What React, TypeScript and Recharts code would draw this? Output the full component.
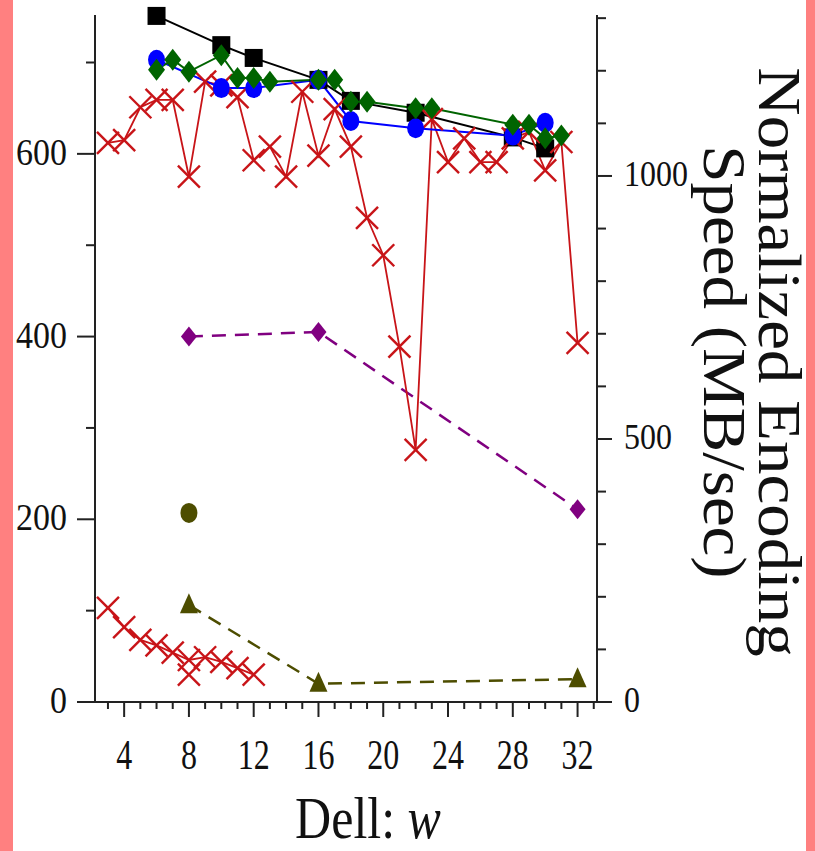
import { ComposedChart, Line, Scatter, XAxis, YAxis } from "recharts";

// w values and readings per series (left axis units)
const blackW = [6, 10, 12, 16, 18, 22, 28, 30];
const blackVal = [751, 719, 705, 681, 658, 645, 618, 606];

const blueW = [6, 10, 12, 16, 18, 22, 28, 30];
const blueVal = [703, 672, 672, 681, 636, 628, 620, 634];

const greenW = [6, 7, 8, 10, 11, 12, 13, 16, 17, 18, 19, 22, 23, 28, 29, 30, 31];
const greenVal = [692, 703, 690, 708, 683, 683, 679, 681, 681, 657, 657, 650, 650, 632, 632, 617, 620];

const redTopW = [3, 4, 5, 6, 7, 8, 9, 10, 11, 12, 13, 14, 15, 16, 17, 18, 19, 20, 21, 22, 23, 24, 25, 26, 27, 28, 29, 30, 31, 32];
const redTopVal = [612, 615, 651, 659, 659, 575, 679, 675, 662, 593, 608, 575, 668, 598, 649, 608, 530, 489, 389, 276, 638, 591, 617, 591, 591, 617, 624, 582, 613, 393];

const redLowW = [3, 4, 5, 6, 7, 8, 9, 10, 11, 12];
const redLowVal = [103, 82, 68, 62, 54, 46, 49, 44, 37, 30];
const redExtraW = [8];
const redExtraVal = [30];

const purpleW = [8, 16, 32];
const purpleVal = [400, 405, 211];

const oliveDotW = [8];
const oliveDotVal = [207];

const oliveTriW = [8, 16, 32];
const oliveTriVal = [106, 20, 25];

// ticks
const xTicks = [3, 4, 5, 6, 7, 8, 9, 10, 11, 12, 13, 14, 15, 16, 17, 18, 19, 20, 21, 22, 23, 24, 25, 26, 27, 28, 29, 30, 31, 32, 33];
const leftTicks = [0, 100, 200, 300, 400, 500, 600, 700];
const rightTicks = [0, 100, 200, 300, 400, 500, 600, 700, 800, 900, 1000, 1100, 1200, 1300];

const toRows = (ws: number[], vals: number[]) => ws.map((w, i) => ({ w, v: vals[i] }));

const FONT = "'Liberation Serif', 'DejaVu Serif', serif";
const AXIS = "#222";
const RED = "#c81418";
const OLIVE = "#4d4d00";

function LeftTick(props: any) {
  const { x, y, payload } = props;
  const major = payload.value % 200 === 0;
  return (
    <g>
      <line x1={x - (major ? 18 : 9)} x2={x} y1={y} y2={y} stroke={AXIS} strokeWidth={2} />
      {major && (
        <text
          transform={`translate(${x - 28},${y + 11}) scale(1,1.12)`}
          textAnchor="end"
          fontSize={34}
          fontFamily={FONT}
          fill="#111"
        >
          {payload.value}
        </text>
      )}
    </g>
  );
}

function RightTick(props: any) {
  const { x, y, payload } = props;
  const major = payload.value % 500 === 0;
  return (
    <g>
      <line x1={x} x2={x + (major ? 15 : 9)} y1={y} y2={y} stroke={AXIS} strokeWidth={2} />
      {major && (
        <text
          transform={`translate(${x + 27},${y + 10}) scale(1,1.12)`}
          textAnchor="start"
          fontSize={32}
          fontFamily={FONT}
          fill="#111"
        >
          {payload.value}
        </text>
      )}
    </g>
  );
}

function BottomTick(props: any) {
  const { x, y, payload } = props;
  const major = payload.value % 4 === 0;
  return (
    <g>
      <line x1={x} x2={x} y1={y} y2={y + (major ? 15 : 7)} stroke={AXIS} strokeWidth={2} />
      {major && (
        <text
          transform={`translate(${x},${y + 67}) scale(1,1.3)`}
          textAnchor="middle"
          fontSize={32}
          fontFamily={FONT}
          fill="#111"
        >
          {payload.value}
        </text>
      )}
    </g>
  );
}

const Square = (p: any) =>
  p.cx == null ? <g key={p.key} /> : <rect key={p.key} x={p.cx - 9} y={p.cy - 9} width={18} height={18} fill="#000" />;

const Circle = (p: any) =>
  p.cx == null ? <g key={p.key} /> : <ellipse key={p.key} cx={p.cx} cy={p.cy} rx={8.5} ry={10} fill="#0000ff" />;

const diamond = (color: string, w: number, h: number) => (p: any) =>
  p.cx == null ? (
    <g key={p.key} />
  ) : (
    <polygon
      key={p.key}
      points={`${p.cx},${p.cy - h} ${p.cx + w},${p.cy} ${p.cx},${p.cy + h} ${p.cx - w},${p.cy}`}
      fill={color}
    />
  );

const Cross = (p: any) =>
  p.cx == null ? (
    <g key={p.key} />
  ) : (
    <g key={p.key} stroke={RED} strokeWidth={2.4}>
      <line x1={p.cx - 11} y1={p.cy - 11} x2={p.cx + 11} y2={p.cy + 11} />
      <line x1={p.cx - 11} y1={p.cy + 11} x2={p.cx + 11} y2={p.cy - 11} />
    </g>
  );

const Triangle = (p: any) =>
  p.cx == null ? (
    <g key={p.key} />
  ) : (
    <polygon key={p.key} points={`${p.cx},${p.cy - 12} ${p.cx + 9},${p.cy + 8} ${p.cx - 9},${p.cy + 8}`} fill={OLIVE} />
  );

const OliveDot = (p: any) => <ellipse cx={p.cx} cy={p.cy} rx={8.5} ry={10} fill={OLIVE} />;
const CrossShape = (p: any) => (
  <g stroke={RED} strokeWidth={2.4}>
    <line x1={p.cx - 11} y1={p.cy - 11} x2={p.cx + 11} y2={p.cy + 11} />
    <line x1={p.cx - 11} y1={p.cy + 11} x2={p.cx + 11} y2={p.cy - 11} />
  </g>
);

export default function App() {
  return (
    <div style={{ position: "absolute", left: 0, top: 0, width: 815, height: 851, background: "#ff8080", overflow: "hidden" }}>
      <div style={{ position: "absolute", left: 13, top: 0, width: 793, height: 851, background: "#fff" }} />
      <div style={{ position: "absolute", left: 80, top: 701, width: 532, height: 2, background: AXIS }} />
      <div style={{ position: "absolute", left: 0, top: 0 }}>
        <ComposedChart width={815} height={851} margin={{ top: 15, right: 118, bottom: 89, left: 15 }}>
          <XAxis
            type="number"
            dataKey="w"
            domain={[2.2, 33.2]}
            ticks={xTicks}
            interval={0}
            tickSize={0}
            tickMargin={0}
            tickLine={false}
            axisLine={false}
            tick={<BottomTick />}
            height={60}
          />
          <YAxis
            yAxisId="left"
            type="number"
            domain={[0, 752]}
            ticks={leftTicks}
            interval={0}
            tickSize={0}
            tickMargin={0}
            tickLine={false}
            axisLine={{ stroke: AXIS, strokeWidth: 2 }}
            tick={<LeftTick />}
            width={80}
          />
          <YAxis
            yAxisId="right"
            orientation="right"
            type="number"
            domain={[0, 1306]}
            allowDataOverflow
            ticks={rightTicks}
            interval={0}
            tickSize={0}
            tickMargin={0}
            tickLine={false}
            axisLine={{ stroke: AXIS, strokeWidth: 2 }}
            tick={<RightTick />}
            width={100}
          />
          <Line yAxisId="right" data={[]} dataKey="v" stroke="none" dot={false} isAnimationActive={false} />
          <Line
            yAxisId="left"
            data={toRows(purpleW, purpleVal)}
            dataKey="v"
            stroke="#800080"
            strokeWidth={2.5}
            strokeDasharray="14 9"
            dot={diamond("#800080", 8, 10)}
            isAnimationActive={false}
          />
          <Line
            yAxisId="left"
            data={toRows(oliveTriW, oliveTriVal)}
            dataKey="v"
            stroke={OLIVE}
            strokeWidth={2.5}
            strokeDasharray="14 9"
            dot={Triangle}
            isAnimationActive={false}
          />
          <Scatter yAxisId="left" data={toRows(oliveDotW, oliveDotVal)} dataKey="v" shape={OliveDot} isAnimationActive={false} />
          <Line
            yAxisId="left"
            data={toRows(redLowW, redLowVal)}
            dataKey="v"
            stroke={RED}
            strokeWidth={1.8}
            dot={Cross}
            isAnimationActive={false}
          />
          <Scatter yAxisId="left" data={toRows(redExtraW, redExtraVal)} dataKey="v" shape={CrossShape} isAnimationActive={false} />
          <Line
            yAxisId="left"
            data={toRows(blackW, blackVal)}
            dataKey="v"
            stroke="#000"
            strokeWidth={2}
            dot={Square}
            isAnimationActive={false}
          />
          <Line
            yAxisId="left"
            data={toRows(redTopW, redTopVal)}
            dataKey="v"
            stroke={RED}
            strokeWidth={1.8}
            dot={Cross}
            isAnimationActive={false}
          />
          <Line
            yAxisId="left"
            data={toRows(blueW, blueVal)}
            dataKey="v"
            stroke="#0000ff"
            strokeWidth={2}
            dot={Circle}
            isAnimationActive={false}
          />
          <Line
            yAxisId="left"
            data={toRows(greenW, greenVal)}
            dataKey="v"
            stroke="#006400"
            strokeWidth={2}
            dot={diamond("#006400", 8.5, 11)}
            isAnimationActive={false}
          />
        </ComposedChart>
      </div>
      <div
        style={{
          position: "absolute",
          left: 268,
          top: 792,
          width: 200,
          textAlign: "center",
          fontFamily: FONT,
          fontSize: 50,
          lineHeight: 0.9,
          color: "#111",
          transform: "scaleY(1.18)",
          transformOrigin: "center top",
          whiteSpace: "nowrap",
        }}
      >
        Dell: <i>w</i>
      </div>
      <div
        style={{
          position: "absolute",
          left: 780,
          top: 362,
          fontFamily: FONT,
          fontSize: 62,
          lineHeight: 1,
          color: "#111",
          whiteSpace: "nowrap",
          transform: "translate(-50%, -50%) rotate(90deg) scaleX(1.08)",
        }}
      >
        Normalized Encoding
      </div>
      <div
        style={{
          position: "absolute",
          left: 725,
          top: 362,
          fontFamily: FONT,
          fontSize: 62,
          lineHeight: 1,
          color: "#111",
          whiteSpace: "nowrap",
          transform: "translate(-50%, -50%) rotate(90deg) scaleX(1.08)",
        }}
      >
        Speed (MB/sec)
      </div>
    </div>
  );
}
